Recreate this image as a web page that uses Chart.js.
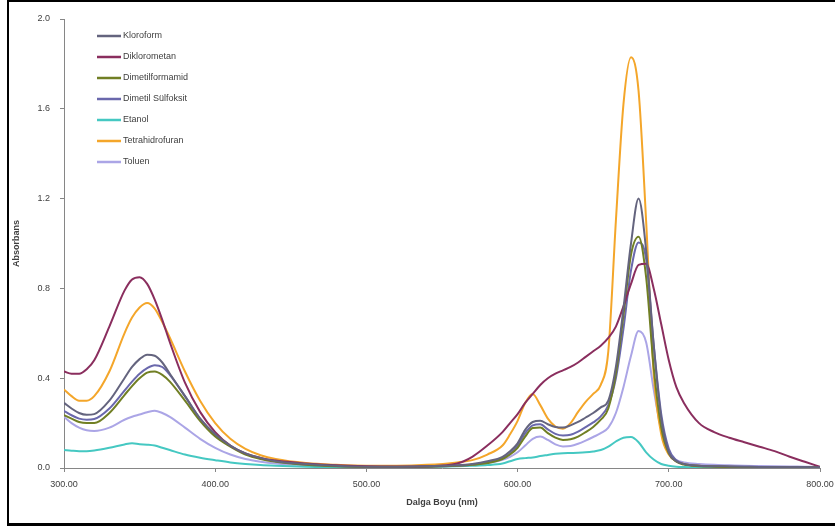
<!DOCTYPE html>
<html>
<head>
<meta charset="utf-8">
<script src="https://cdn.jsdelivr.net/npm/chart.js@4/dist/chart.umd.min.js"></script>
<style>
  html, body { margin: 0; padding: 0; background: #ffffff; }
  #wrap { position: relative; width: 835px; height: 527px; overflow: hidden; background: #ffffff; }
  #frame { position: absolute; left: 7px; top: 0px; width: 900px; height: 521px;
           border-left: 2px solid #000; border-top: 2px solid #000; border-bottom: 3px solid #000; pointer-events: none; }
  canvas { position: absolute; left: 0; top: 0; }
</style>
</head>
<body>
<div id="wrap">
  <canvas id="spectra" width="835" height="527"></canvas>
  <div id="frame"></div>
</div>
<script>
// Wavelength grid (nm)
const wavelengths = [300,305,310,315,320,330,340,345,350,355,360,365,370,380,390,400,410,420,430,440,
  460,480,500,520,540,560,570,580,590,595,600,605,610,615,620,625,630,635,640,645,650,655,660,665,670,
  675,680,685,690,695,700,705,710,720,730,740,750,760,770,780,790,800];

// Absorbance per solvent, one value per wavelength above
const kloroform = [0.29,0.265,0.245,0.237,0.24,0.30,0.40,0.45,0.485,0.505,0.50,0.47,0.42,0.32,0.22,0.15,0.10,0.065,0.045,0.03,
  0.018,0.01,0.006,0.006,0.008,0.012,0.018,0.03,0.05,0.075,0.11,0.17,0.205,0.21,0.195,0.183,0.18,0.19,0.205,0.225,0.245,0.27,0.30,0.45,0.71,
  1.00,1.20,0.97,0.55,0.22,0.07,0.03,0.018,0.01,0.008,0.007,0.006,0.005,0.005,0.004,0.004,0.003];

const diklorometan = [0.43,0.42,0.42,0.44,0.48,0.63,0.79,0.84,0.85,0.82,0.75,0.66,0.56,0.38,0.25,0.16,0.10,0.065,0.045,0.033,
  0.02,0.012,0.008,0.007,0.008,0.02,0.05,0.10,0.16,0.20,0.24,0.29,0.33,0.37,0.40,0.42,0.435,0.45,0.47,0.495,0.52,0.545,0.58,0.63,0.72,
  0.82,0.905,0.91,0.80,0.64,0.48,0.36,0.29,0.20,0.16,0.135,0.115,0.095,0.075,0.05,0.028,0.005];

const dimetilformamid = [0.235,0.22,0.205,0.20,0.20,0.245,0.325,0.365,0.40,0.425,0.43,0.415,0.385,0.30,0.21,0.14,0.095,0.06,0.04,0.028,
  0.015,0.008,0.005,0.005,0.006,0.01,0.014,0.022,0.04,0.06,0.09,0.14,0.178,0.18,0.155,0.135,0.125,0.128,0.14,0.16,0.183,0.215,0.265,0.42,0.68,
  0.95,1.03,0.85,0.45,0.18,0.065,0.028,0.015,0.008,0.006,0.005,0.005,0.004,0.004,0.003,0.003,0.003];

const dimetilSulfoksit = [0.255,0.235,0.22,0.215,0.218,0.265,0.345,0.385,0.42,0.445,0.458,0.45,0.415,0.32,0.22,0.148,0.098,0.063,0.043,0.03,
  0.016,0.009,0.006,0.005,0.007,0.01,0.014,0.025,0.045,0.065,0.10,0.155,0.19,0.195,0.172,0.152,0.145,0.148,0.162,0.182,0.203,0.23,0.28,0.40,0.62,
  0.88,1.005,0.93,0.55,0.24,0.085,0.035,0.018,0.01,0.008,0.007,0.006,0.005,0.005,0.004,0.004,0.003];

const etanol = [0.08,0.077,0.075,0.075,0.078,0.09,0.105,0.11,0.106,0.104,0.10,0.09,0.08,0.06,0.046,0.035,0.025,0.018,0.013,0.01,
  0.006,0.004,0.004,0.004,0.005,0.008,0.01,0.013,0.02,0.03,0.04,0.044,0.047,0.053,0.058,0.063,0.066,0.067,0.068,0.07,0.074,0.08,0.095,0.118,0.135,
  0.138,0.115,0.07,0.038,0.018,0.01,0.006,0.004,0.003,0.003,0.003,0.002,0.002,0.002,0.002,0.002,0.002];

const tetrahidrofuran = [0.35,0.32,0.30,0.30,0.32,0.43,0.60,0.67,0.715,0.735,0.71,0.65,0.58,0.43,0.30,0.20,0.13,0.085,0.057,0.04,
  0.022,0.014,0.01,0.01,0.014,0.025,0.035,0.06,0.10,0.15,0.21,0.29,0.33,0.28,0.22,0.185,0.175,0.20,0.25,0.295,0.33,0.37,0.52,1.10,1.62,
  1.83,1.68,1.10,0.42,0.15,0.06,0.03,0.018,0.01,0.008,0.006,0.005,0.005,0.004,0.004,0.003,0.003];

const toluen = [0.228,0.20,0.18,0.168,0.165,0.18,0.215,0.228,0.238,0.248,0.255,0.245,0.228,0.18,0.13,0.09,0.06,0.04,0.028,0.02,
  0.012,0.008,0.006,0.006,0.007,0.01,0.014,0.022,0.036,0.05,0.07,0.10,0.13,0.14,0.125,0.105,0.096,0.098,0.108,0.122,0.138,0.155,0.18,0.245,0.36,
  0.50,0.61,0.56,0.35,0.17,0.07,0.035,0.025,0.018,0.014,0.012,0.01,0.009,0.008,0.007,0.006,0.005];

const seriesNames = ['Kloroform','Diklorometan','Dimetilformamid','Dimetil Sülfoksit','Etanol','Tetrahidrofuran','Toluen'];
const seriesValues = [kloroform, diklorometan, dimetilformamid, dimetilSulfoksit, etanol, tetrahidrofuran, toluen];
const seriesColors = ['#64647e','#8a2e5e','#717f24','#6a68ac','#45c8c2','#f4a62a','#aba5e6'];

const xTitle = 'Dalga Boyu (nm)';
const yTitle = 'Absorbans';

const tickFont = { family: '"Liberation Sans", Arial, sans-serif', size: 9 };
const titleFont = { family: '"Liberation Sans", Arial, sans-serif', size: 9, weight: 'bold' };
const axisGray = '#868686';
const textColor = '#404040';

// Legend drawn inside the plot area, top-left
const insideLegend = {
  id: 'insideLegend',
  afterDraw(chart) {
    const c = chart.ctx;
    c.save();
    c.font = '9px "Liberation Sans", Arial, sans-serif';
    c.textBaseline = 'middle';
    chart.data.datasets.forEach((ds, i) => {
      const y = 36 + i * 21;
      c.strokeStyle = ds.borderColor;
      c.lineWidth = 2.5;
      c.beginPath();
      c.moveTo(97, y);
      c.lineTo(121, y);
      c.stroke();
      c.fillStyle = textColor;
      c.fillText(ds.label, 123, y);
    });
    c.restore();
  }
};

const datasets = seriesNames.map((name, i) => ({
  label: name,
  data: wavelengths.map((w, j) => ({ x: w, y: seriesValues[i][j] })),
  borderColor: seriesColors[i],
  backgroundColor: seriesColors[i],
  borderWidth: 2,
  pointRadius: 0,
  fill: false,
  cubicInterpolationMode: 'monotone'
}));

new Chart(document.getElementById('spectra'), {
  type: 'line',
  data: { datasets },
  plugins: [insideLegend],
  options: {
    responsive: false,
    animation: false,
    layout: { padding: { top: 19, right: 15, left: 0, bottom: 0 } },
    plugins: { legend: { display: false }, tooltip: { enabled: false } },
    scales: {
      x: {
        type: 'linear', min: 300, max: 800,
        ticks: { stepSize: 100, callback: v => v.toFixed(2), font: tickFont, color: textColor, padding: 7, maxRotation: 0 },
        grid: { drawOnChartArea: false, drawTicks: true, tickLength: 4, color: axisGray },
        border: { color: axisGray, width: 1 },
        title: { display: true, text: xTitle, font: titleFont, color: textColor, padding: { top: 0, bottom: 19 } },
        afterFit(scale) { scale.height = 59; scale.paddingLeft = 0; scale.paddingRight = 0; }
      },
      y: {
        type: 'linear', min: 0, max: 2,
        ticks: { stepSize: 0.4, callback: v => v.toFixed(1), font: tickFont, color: textColor, padding: 10 },
        grid: { drawOnChartArea: false, drawTicks: true, tickLength: 4, color: axisGray },
        border: { color: axisGray, width: 1 },
        title: { display: true, text: yTitle, font: titleFont, color: textColor, padding: { top: 11, bottom: 0 } },
        afterFit(scale) { scale.width = 64; scale.paddingTop = 0; scale.paddingBottom = 0; }
      }
    }
  }
});
</script>
</body>
</html>
